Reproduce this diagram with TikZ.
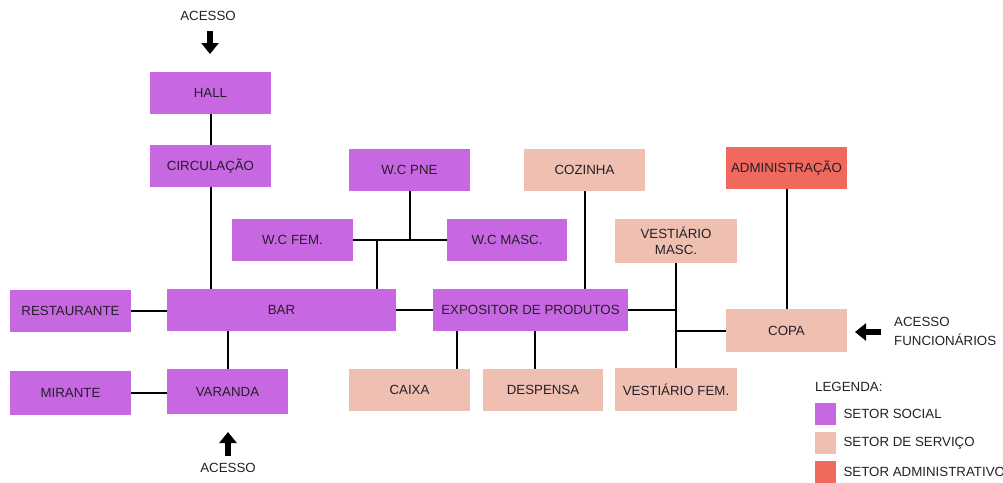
\documentclass[tikz,border=0pt]{standalone}
\usepackage{fontspec}
\setmainfont{Liberation Sans}
\usetikzlibrary{arrows.meta, positioning}

\definecolor{social}{RGB}{199,104,226}
\definecolor{servico}{RGB}{239,192,177}
\definecolor{admin}{RGB}{241,104,92}
\definecolor{texto}{RGB}{38,30,40}

\begin{document}
\begin{tikzpicture}[x=1pt, y=-1pt,
    box/.style={rectangle, inner sep=0pt, minimum width=121pt, minimum height=42pt,
                text=texto, font=\fontsize{13.3}{16}\selectfont, align=center},
    soc/.style={box, fill=social},
    serv/.style={box, fill=servico},
    adm/.style={box, fill=admin},
    liga/.style={line width=2pt},
    seta/.style={line width=5.5pt, -{Triangle[length=11pt,width=17pt]}},
    rotulo/.style={text=texto, font=\fontsize{13.3}{19}\selectfont, inner sep=0pt},
    leg/.style={rectangle, inner sep=0pt, minimum width=21pt, minimum height=22pt}]
    \useasboundingbox (0,0) rectangle (1003,482);

    % setor social
    \node[soc] (hall)     at (210.5, 93)  {HALL};
    \node[soc] (circ)     at (210.5, 166) {CIRCULAÇÃO};
    \node[soc] (wcpne)    at (409.5, 169.5) {W.C PNE};
    \node[soc] (wcfem)    at (292.5, 240) {W.C FEM.};
    \node[soc, minimum width=120pt] (wcmasc) at (507, 240) {W.C MASC.};
    \node[soc, minimum width=229pt] (bar) at (281.5, 310) {BAR};
    \node[soc] (rest)     at (70.5, 311)  {RESTAURANTE};
    \node[soc, minimum height=44pt] (mirante) at (70.5, 393) {MIRANTE};
    \node[soc, minimum height=45pt] (varanda) at (227.5, 391.5) {VARANDA};
    \node[soc, minimum width=195pt] (expo) at (530.5, 310) {EXPOSITOR DE PRODUTOS};

    % setor de servico
    \node[serv] (caixa)   at (409.5, 390) {CAIXA};
    \node[serv, minimum width=120pt] (despensa) at (543, 390) {DESPENSA};
    \node[serv] (cozinha) at (584.5, 170) {COZINHA};
    \node[serv, minimum width=122pt, minimum height=44pt] (vestmasc) at (676, 241) {VESTIÁRIO\\MASC.};
    \node[serv, minimum width=122pt, minimum height=43pt] (vestfem)  at (676, 389.5) {VESTIÁRIO FEM.};
    \node[serv, minimum height=43pt] (copa) at (786.5, 330.5) {COPA};

    % setor administrativo
    \node[adm] (admin) at (786.5, 168) {ADMINISTRAÇÃO};

    % ligacoes
    \draw[liga] (hall) -- (circ);
    \draw[liga] (circ.south) -- (circ.south |- bar.north);
    \draw[liga] (wcfem.east) -- (wcmasc.west);
    \draw[liga] (wcpne.south) -- (wcpne.south |- wcfem.east);
    \coordinate (jwc) at (377, 240);
    \draw[liga] (jwc) -- (jwc |- bar.north);
    \draw[liga] (rest.east) -- (rest.east -| bar.west);
    \draw[liga] (varanda.north) -- (varanda.north |- bar.south);
    \draw[liga] (mirante.east) -- (mirante.east -| varanda.west);
    \draw[liga] (bar.east) -- (expo.west);
    \draw[liga] (cozinha.south) -- (cozinha.south |- expo.north);
    \draw[liga] ([xshift=47.5pt]caixa.north) -- ([xshift=47.5pt]caixa.north |- expo.south);
    \draw[liga] ([xshift=-8pt]despensa.north) -- ([xshift=-8pt]despensa.north |- expo.south);
    \draw[liga] (expo.east) -- (expo.east -| vestmasc.south);
    \draw[liga] (vestmasc.south) -- (vestfem.north);
    \draw[liga] (vestmasc.south |- copa.west) -- (copa.west);
    \draw[liga] (admin.south) -- (copa.north);

    % acessos
    \node[rotulo] (acesso1) at (208, 16) {ACESSO};
    \coordinate (s1a) at (210, 31);
    \coordinate (s1b) at (210, 54);
    \draw[seta] (s1a) -- (s1b);
    \node[rotulo] (acesso2) at (228, 468) {ACESSO};
    \coordinate (s2a) at (228, 456);
    \coordinate (s2b) at (228, 432);
    \draw[seta] (s2a) -- (s2b);
    \node[rotulo, anchor=west, align=left] (acesso3) at (894, 331.5) {ACESSO\\FUNCIONÁRIOS};
    \coordinate (s3a) at (881, 332);
    \coordinate (s3b) at (855, 332);
    \draw[seta] (s3a) -- (s3b);

    % legenda
    \node[rotulo, anchor=west] (legenda) at (815, 387) {LEGENDA:};
    \foreach \cor/\txt [count=\i] in {social/SETOR SOCIAL, servico/SETOR DE SERVIÇO, admin/SETOR ADMINISTRATIVO}
    {
      \node[leg, fill=\cor, anchor=north west] (leg\i) at (815, 374+29*\i) {};
      \node[rotulo, anchor=west] (legt\i) at ([xshift=7pt]leg\i.east) {\txt};
    }
\end{tikzpicture}
\end{document}
